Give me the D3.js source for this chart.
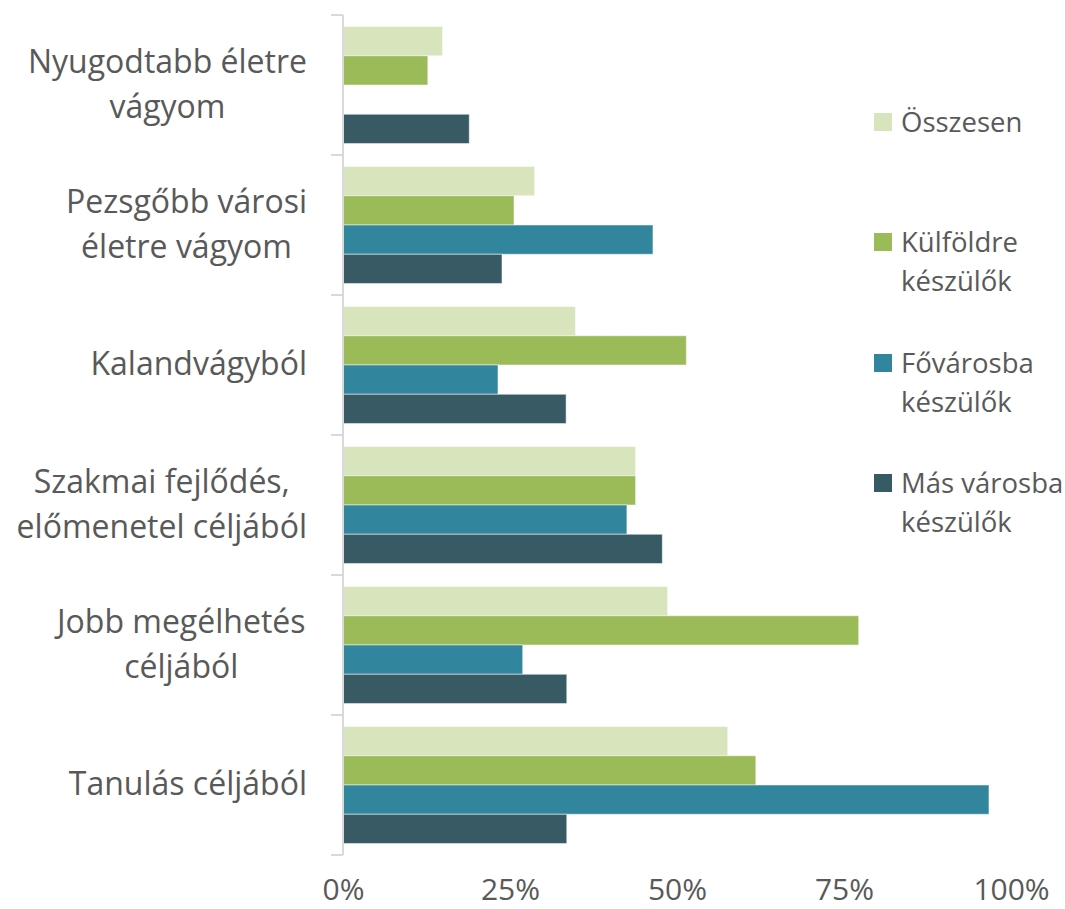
<!DOCTYPE html>
<html>
<head>
<meta charset="utf-8">
<script src="https://cdn.jsdelivr.net/npm/d3@7"></script>
<style>
  body { margin: 0; background: #fff; }
  text { font-family: "Open Sans", sans-serif; fill: #595959; }
</style>
</head>
<body>
<svg id="chart" width="1065" height="909"></svg>
<script>
// categories top to bottom
const categories = [
  ["Nyugodtabb életre", "vágyom"],
  ["Pezsgőbb városi", "életre vágyom"],
  ["Kalandvágyból"],
  ["Szakmai fejlődés,", "előmenetel céljából"],
  ["Jobb megélhetés", "céljából"],
  ["Tanulás céljából"]
];
const seriesNames = ["Összesen", "Külföldre készülők", "Fővárosba készülők", "Más városba készülők"];
const legendLines = [["Összesen"], ["Külföldre", "készülők"], ["Fővárosba", "készülők"], ["Más városba", "készülők"]];
const colors = ["#D8E4BC", "#9BBB59", "#31859C", "#375A64"];

// values in % per series, same order as categories
const osszesen  = [14.9, 28.7, 34.8, 43.8, 48.6, 57.6];
const kulfoldre = [12.7, 25.6, 51.4, 43.8, 77.2, 61.8];
const fovarosba = [0,    46.4, 23.2, 42.5, 26.9, 96.7];
const masvaros  = [18.9, 23.8, 33.4, 47.8, 33.5, 33.5];
const seriesValues = [osszesen, kulfoldre, fovarosba, masvaros];
const xTicks = [0, 0.25, 0.5, 0.75, 1];

const svg = d3.select("#chart");
const catKeys = categories.map(c => c.join(" "));

const x = d3.scaleLinear().domain([0, 1]).range([343, 1011]);
const y = d3.scaleBand().domain(catKeys).range([15, 855])
  .paddingInner(0.164).paddingOuter(0.082);
const ySub = d3.scaleBand().domain(seriesNames).range([0, y.bandwidth()]);

// bars
const groups = svg.append("g").selectAll("g")
  .data(catKeys)
  .join("g")
  .attr("transform", d => `translate(0,${y(d)})`);

groups.selectAll("rect")
  .data((d, i) => seriesNames.map((s, j) => ({ s, v: seriesValues[j][i] / 100, c: colors[j] })))
  .join("rect")
  .attr("x", x(0))
  .attr("y", d => ySub(d.s))
  .attr("height", ySub.bandwidth())
  .attr("width", d => x(d.v) - x(0))
  .attr("fill", d => d.c)
  .attr("stroke", "rgba(255,255,255,0.5)")
  .attr("stroke-width", 1)
  .style("display", d => d.v > 0 ? null : "none");

// vertical axis line and boundary ticks
const axisColor = "#D9D9D9";
const ax = svg.append("g");
ax.append("line")
  .attr("x1", x(0)).attr("x2", x(0))
  .attr("y1", y.range()[0]).attr("y2", y.range()[1])
  .attr("stroke", axisColor).attr("stroke-width", 2);
const bounds = d3.range(catKeys.length + 1).map(i => y.range()[0] + i * y.step());
ax.selectAll("line.tick")
  .data(bounds)
  .join("line")
  .attr("class", "tick")
  .attr("x1", x(0) - 12).attr("x2", x(0))
  .attr("y1", d => d).attr("y2", d => d)
  .attr("stroke", axisColor).attr("stroke-width", 2);

// category labels: block right-aligned, lines centred inside it
const labelRight = 307;
const catLabels = svg.append("g").selectAll("text")
  .data(categories)
  .join("text")
  .attr("font-size", 32)
  .attr("text-anchor", "middle");

catLabels.each(function (lines, i) {
  const t = d3.select(this);
  const cy = y(catKeys[i]) + y.bandwidth() / 2;
  const lh = 45;
  const y0 = cy - (lines.length - 1) * lh / 2;
  lines.forEach((ln, k) => {
    t.append("tspan").attr("x", 0).attr("y", y0 + k * lh).attr("dy", "0.32em").text(ln);
  });
  const w = this.getBBox().width;
  t.selectAll("tspan").attr("x", labelRight - w / 2);
});

// x axis
const xAxis = svg.append("g")
  .attr("transform", "translate(0,879)")
  .call(d3.axisBottom(x).tickValues(xTicks).tickFormat(d3.format(".0%")).tickSize(0).tickPadding(0));
xAxis.select(".domain").remove();
xAxis.selectAll("text")
  .attr("font-size", 30)
  .attr("font-family", "Open Sans, sans-serif")
  .attr("fill", "#595959")
  .attr("dy", "0.7em");

// legend
const legendY = [122, 242, 363, 483];
const lg = svg.append("g").selectAll("g")
  .data(legendLines)
  .join("g")
  .attr("transform", (d, i) => `translate(874,${legendY[i]})`);
lg.append("rect")
  .attr("x", 0).attr("y", -9).attr("width", 18).attr("height", 18)
  .attr("fill", (d, i) => colors[i]);
lg.append("text")
  .attr("font-size", 27.5)
  .selectAll("tspan")
  .data(d => d)
  .join("tspan")
  .attr("x", 27)
  .attr("y", (d, k) => k * 39)
  .attr("dy", "0.35em")
  .text(d => d);
</script>
</body>
</html>
